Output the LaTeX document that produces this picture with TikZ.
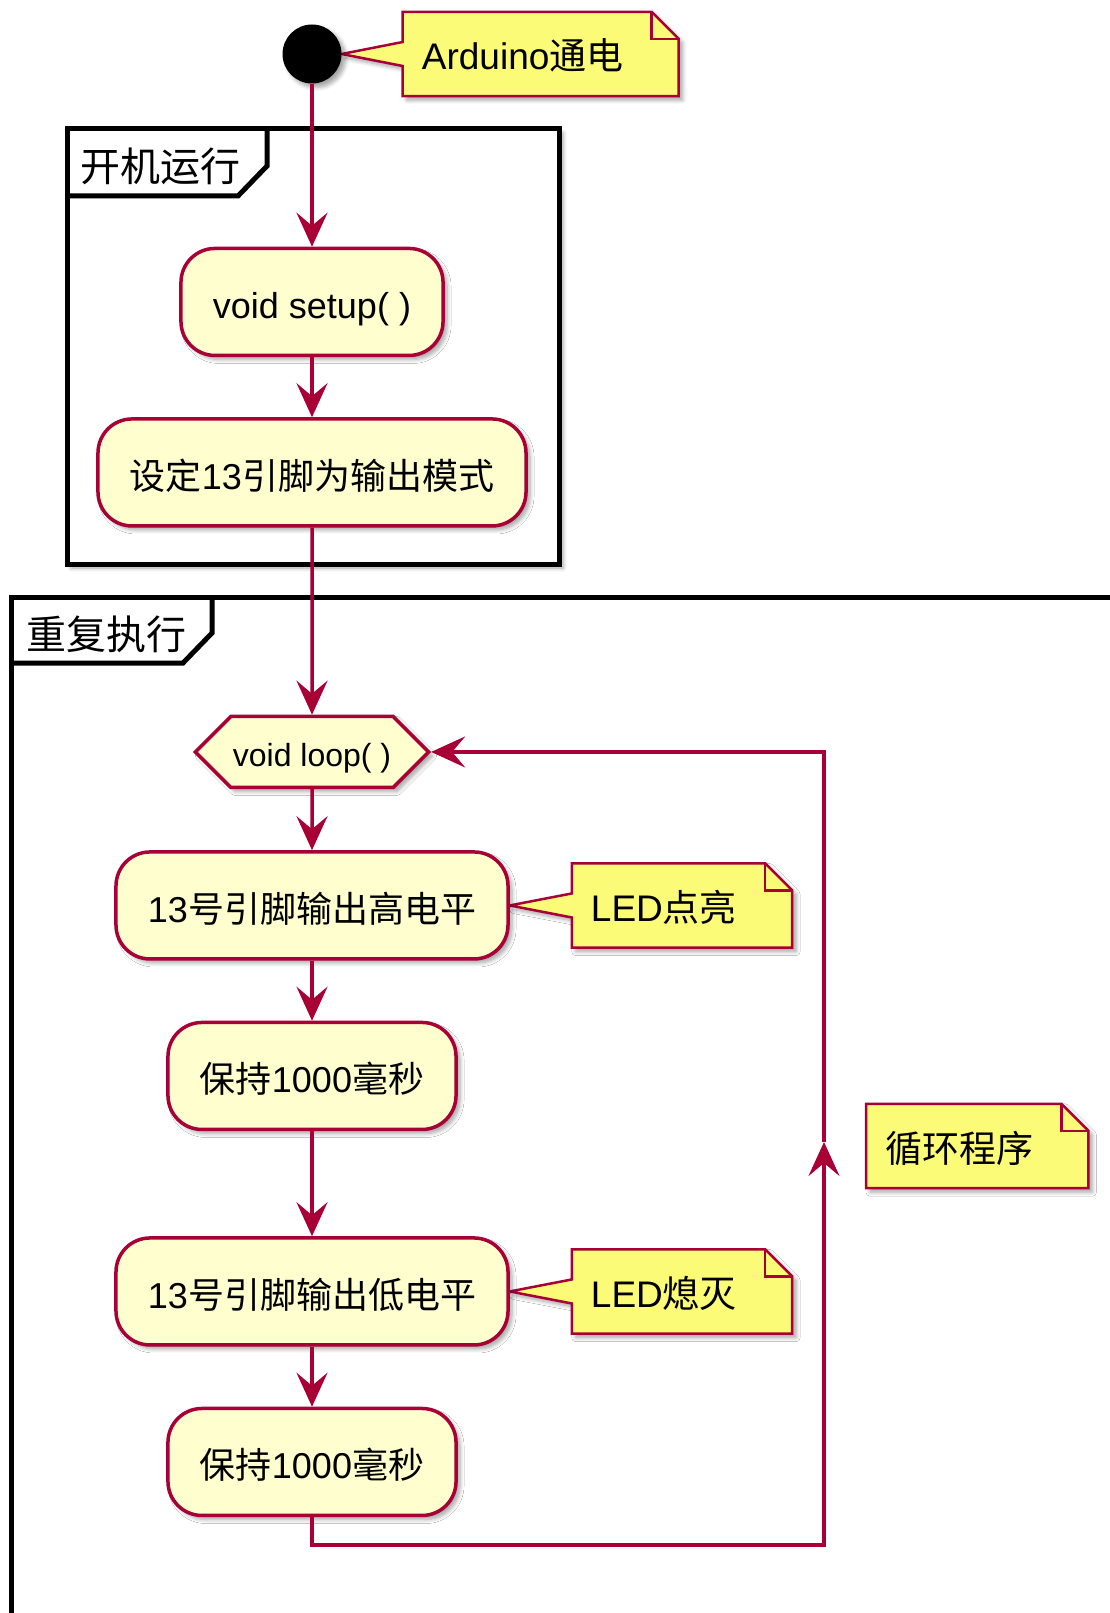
\documentclass[tikz,border=0pt]{standalone}
\usepackage{fontspec}
\setmainfont{Liberation Sans}
\newfontfamily\zhfont{Noto Sans CJK SC}
\newcommand{\zh}[1]{{\zhfont #1}}
\usetikzlibrary{arrows.meta, positioning, calc, shapes.symbols, shadows.blur, backgrounds}

\definecolor{umlred}{HTML}{A80036}
\definecolor{actfill}{HTML}{FEFECE}
\definecolor{notefill}{HTML}{FBFB77}

% Notiz mit Eselsohr und Spitze zum Ziel #2
\newcommand{\noteframe}[2]{%
  \filldraw[noteline] (#1.north west) -- ($(#1.north east)+(9,0)$)
    -- ($(#1.north east)+(36,27)$) -- ($(#1.south east)+(36,0)$)
    -- (#1.south west) -- ($(#1.west)+(0,12)$) -- (#2)
    -- ($(#1.west)+(0,-12)$) -- cycle;
  \draw[foldline] ($(#1.north east)+(9,0)$) |- ($(#1.north east)+(36,27)$);
}

\begin{document}
\begin{tikzpicture}[x=1pt, y=-1pt,
  softshadow/.style={blur shadow={shadow xshift=4pt, shadow yshift=-4pt,
    shadow blur steps=6, shadow blur radius=4pt, shadow opacity=35}},
  act/.style={draw=umlred, line width=3.5pt, fill=actfill, rounded corners=34pt,
    minimum height=107pt, inner xsep=32pt, text height=42pt, text depth=8pt,
    font=\fontsize{36}{40}\selectfont, softshadow},
  hexa/.style={signal, signal to=west and east, signal pointer angle=90, draw=umlred,
    line width=3.5pt, fill=actfill, minimum height=71pt, inner xsep=2pt,
    text height=36pt, text depth=6pt, font=\fontsize{32}{36}\selectfont, softshadow},
  note/.style={minimum height=84pt, inner xsep=19pt, text height=40pt, text depth=8pt,
    font=\fontsize{37}{40}\selectfont},
  noteline/.style={draw=umlred, line width=2.5pt, fill=notefill, softshadow},
  foldline/.style={draw=umlred, line width=2.5pt},
  flow/.style={draw=umlred, line width=3.5pt, -{Stealth[length=34pt, width=31pt, inset=13pt]}},
  groupline/.style={draw=black, line width=5pt},
  grouptitle/.style={font=\fontsize{40}{44}\selectfont\zhfont},
  node distance=60pt]
\useasboundingbox (0,0) rectangle (1110,1613);

% Ablauf
\node[circle, fill=black, minimum size=59pt, inner sep=0pt, softshadow] (start) at (312,54) {};
\node[act, below=163pt of start] (setup) {void setup( )};
\node[act, below=of setup] (pinmode) {\zh{设定}13\zh{引脚为输出模式}};
\node[hexa, below=187pt of pinmode] (loop) {void loop( )};
\node[act, below=61pt of loop] (high) {13\zh{号引脚输出高电平}};
\node[act, below=of high] (wait1) {\zh{保持}1000\zh{毫秒}};
\node[act, below=105pt of wait1] (low) {13\zh{号引脚输出低电平}};
\node[act, below=of low] (wait2) {\zh{保持}1000\zh{毫秒}};

% Gruppentitel
\node[grouptitle] (boottitle) at (160,166) {开机运行};
\node[grouptitle] (looptitle) at (106,634) {重复执行};

% Notizen
\node[note, right=61pt of start] (power) {Arduino\zh{通电}};
\node[note, right=62pt of high] (ledon) {LED\zh{点亮}};
\node[note, right=62pt of low] (ledoff) {LED\zh{熄灭}};
\node[note, anchor=west] (loopnote) at (866,1146) {\zh{循环程序}};

% Pfeile
\draw[flow] (start) -- (setup);
\draw[flow] (setup) -- (pinmode);
\draw[flow] (pinmode) -- (loop);
\draw[flow] (loop) -- (high);
\draw[flow] (high) -- (wait1);
\draw[flow] (wait1) -- (low);
\draw[flow] (low) -- (wait2);

% Rueckweg der Schleife
\coordinate (turn) at (824,1545);
\coordinate (backup) at (824,1142);
\draw[flow] (wait2.south) |- (turn) -- (backup);
\draw[flow] (backup) |- (loop.east);

\begin{scope}[on background layer]
  \clip (0,0) rectangle (1110,1613);
  % Gruppen
  \filldraw[groupline, fill=white, softshadow] (67,129) rectangle (559,564);
  \draw[groupline] (67,196) -- (238,196) -- (267,166) -- (267,129);
  \filldraw[groupline, fill=white, softshadow] (11,597) rectangle (1130,1640);
  \draw[groupline] (11,663) -- (183,663) -- (212,633) -- (212,597);
  % Notizen
  \noteframe{power}{start.east}
  \noteframe{ledon}{high.east}
  \noteframe{ledoff}{low.east}
  \filldraw[noteline] (loopnote.north west) -- ($(loopnote.north east)+(9,0)$)
    -- ($(loopnote.north east)+(36,27)$) -- ($(loopnote.south east)+(36,0)$)
    -- (loopnote.south west) -- cycle;
  \draw[foldline] ($(loopnote.north east)+(9,0)$) |- ($(loopnote.north east)+(36,27)$);
\end{scope}
\end{tikzpicture}
\end{document}
